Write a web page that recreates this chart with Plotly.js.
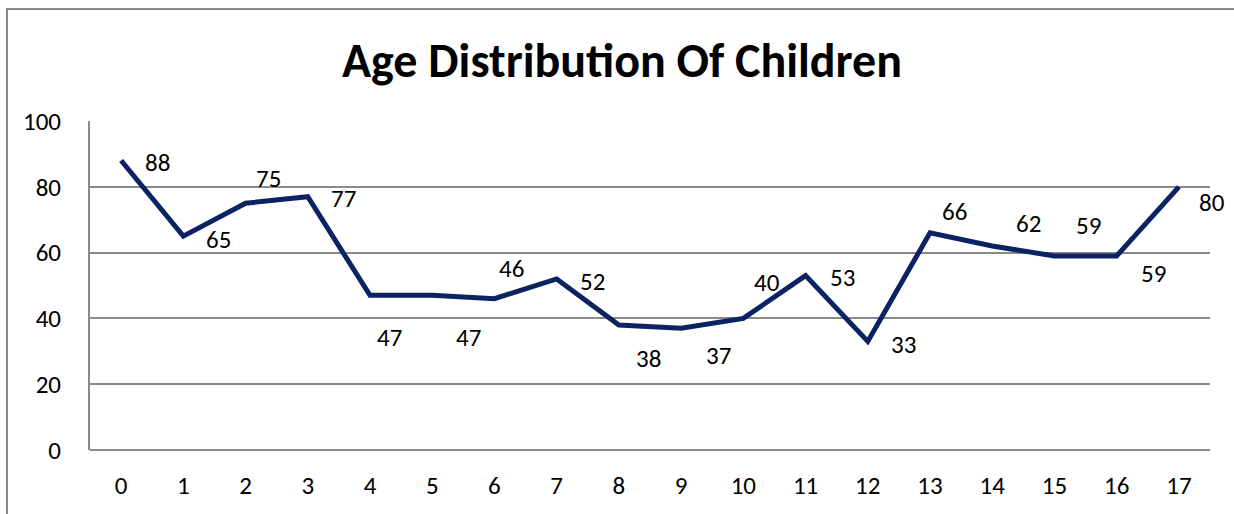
<!DOCTYPE html>
<html>
<head>
<meta charset="utf-8">
<script src="https://cdn.plot.ly/plotly-3.0.1.min.js"></script>
<style>
  html, body { margin: 0; padding: 0; background: #ffffff; }
  #chart { width: 1234px; height: 514px; }
</style>
</head>
<body>
<div id="chart"></div>
<script>
// ---- data ----
const ages = ["0","1","2","3","4","5","6","7","8","9","10","11","12","13","14","15","16","17"];
const counts = [88, 65, 75, 77, 47, 47, 46, 52, 38, 37, 40, 53, 33, 66, 62, 59, 59, 80];
const yTickValues = [0, 20, 40, 60, 80, 100];
const chartTitle = "Age Distribution Of Children";

// ---- label placement (pixel offsets from each point, x right / y down) ----
const labelDx = [36, 35, 23, 36, 19, 36, 17, 36, 30, 37, 24, 37, 36, 24, 36, 34, 37, 33];
const labelDy = [2, 3, -25, 2, 42, 42, -30, 3, 34, 27, -36, 2, 3, -21, -23, -30, 18, 16];

const FONT = "Carlito, Calibri, Lato, 'Open Sans', sans-serif";
const NAVY = "#0b2363";
const GRID = "#8a8a8a";

const trace = {
  type: "scatter",
  mode: "lines",
  x: ages,
  y: counts,
  line: { color: NAVY, width: 5 },
  hoverinfo: "x+y"
};

const annotations = counts.map((v, i) => ({
  x: ages[i],
  y: v,
  xref: "x",
  yref: "y",
  text: String(v),
  showarrow: false,
  xanchor: "center",
  yanchor: "middle",
  xshift: labelDx[i],
  yshift: -labelDy[i],
  font: { family: FONT, size: 25, color: "#000000" }
}));

const layout = {
  width: 1234,
  height: 514,
  margin: { l: 90, r: 24, t: 121, b: 64, pad: 0 },
  paper_bgcolor: "#ffffff",
  plot_bgcolor: "#ffffff",
  showlegend: false,
  font: { family: FONT, size: 25, color: "#000000" },
  title: {
    text: "<b>" + chartTitle + "</b>",
    font: { family: FONT, size: 48, color: "#000000" },
    x: (622 - 90) / 1120,
    xanchor: "center",
    xref: "paper",
    y: 1 - 60 / 514,
    yanchor: "middle",
    yref: "container"
  },
  xaxis: {
    type: "category",
    range: [-0.5, 17.5],
    showgrid: false,
    zeroline: false,
    showline: false,
    ticks: "",
    ticklabelstandoff: 18,
    tickfont: { family: FONT, size: 25, color: "#000000" },
    fixedrange: true
  },
  yaxis: {
    range: [0, 100],
    tickvals: yTickValues,
    ticktext: yTickValues.map(String),
    showgrid: true,
    gridcolor: GRID,
    gridwidth: 2,
    zeroline: true,
    zerolinecolor: GRID,
    zerolinewidth: 2,
    showline: true,
    linecolor: GRID,
    linewidth: 2,
    ticks: "",
    ticklabelstandoff: 22,
    tickfont: { family: FONT, size: 25, color: "#000000" },
    fixedrange: true
  },
  shapes: [
    {
      type: "rect",
      xref: "paper",
      yref: "paper",
      x0: (7 - 90) / 1120,
      x1: (1250 - 90) / 1120,
      y0: (450 - 530) / 329,
      y1: (450 - 9) / 329,
      line: { color: GRID, width: 2 },
      fillcolor: "rgba(0,0,0,0)",
      layer: "below"
    }
  ],
  annotations: annotations
};

Plotly.newPlot("chart", [trace], layout, { displayModeBar: false, staticPlot: true });
</script>
</body>
</html>
